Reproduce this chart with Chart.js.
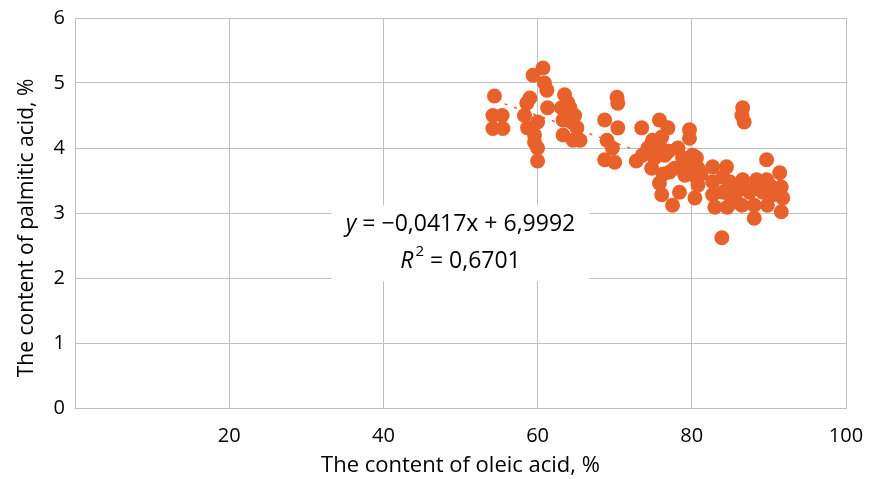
<!DOCTYPE html>
<html>
<head>
<meta charset="utf-8">
<script src="https://cdn.jsdelivr.net/npm/chart.js@4/dist/chart.umd.min.js"></script>
<style>
  html, body { margin: 0; padding: 0; background: #fff; }
  #wrap { width: 869px; height: 479px; }
</style>
</head>
<body>
<div id="wrap"><canvas id="chart"></canvas></div>
<script>
// oleic acid (x) vs palmitic acid (y)
var oleic = [
  54.4, 54.2, 55.4, 54.2, 55.5,
  59.4, 60.7, 60.9, 61.2, 59.0, 58.6, 58.3, 61.3, 58.7, 60.0, 59.6, 59.6, 60.0, 60.0,
  63.5, 63.9, 63.1, 64.2, 64.8, 63.3, 64.4, 63.3, 65.1, 64.6, 65.5,
  70.3, 70.4, 68.7, 70.4, 69.0, 69.7, 68.7, 70.0,
  73.5, 75.8, 76.9, 74.9, 76.1, 73.6, 74.3, 74.8, 75.8, 76.5, 77.1, 75.8, 76.1, 77.5,
  78.4, 78.2, 79.7, 79.7, 79.5, 80.6, 77.8, 79.1, 80.6, 80.4, 80.1, 80.8, 80.8,
  75.2, 77.0, 76.3, 78.8, 81.2, 72.8,
  86.6, 86.5, 86.8, 82.7, 84.5, 89.7, 91.4, 82.7, 84.0, 84.9, 86.6, 88.4, 89.7, 91.6,
  91.8, 82.7, 84.0, 85.8, 87.5, 89.2, 90.5, 83.0, 84.6, 86.5, 88.1, 89.8, 91.6, 88.1,
  85.8, 86.6, 84.9, 88.4, 90.1, 83.9
];
var palmitic = [
  4.80, 4.50, 4.50, 4.30, 4.30,
  5.12, 5.23, 5.00, 4.89, 4.77, 4.69, 4.50, 4.62, 4.31, 4.40, 4.20, 4.09, 4.00, 3.80,
  4.82, 4.70, 4.62, 4.62, 4.50, 4.43, 4.40, 4.20, 4.31, 4.12, 4.12,
  4.78, 4.69, 4.43, 4.31, 4.12, 4.00, 3.82, 3.78,
  4.31, 4.43, 4.31, 4.12, 4.17, 3.89, 4.00, 3.69, 4.05, 3.89, 3.63, 3.46, 3.28, 3.12,
  3.32, 4.00, 4.28, 4.15, 3.74, 3.54, 3.69, 3.58, 3.85, 3.23, 3.89, 3.69, 3.43,
  3.85, 3.95, 3.60, 3.85, 3.60, 3.80,
  4.62, 4.50, 4.40, 3.71, 3.71, 3.82, 3.62, 3.48, 3.55, 3.48, 3.51, 3.51, 3.51, 3.40,
  3.23, 3.28, 3.32, 3.32, 3.32, 3.32, 3.28, 3.09, 3.09, 3.12, 3.12, 3.12, 3.02, 2.92,
  3.17, 3.43, 3.28, 3.40, 3.43, 2.62
];
// linear trend line ends as seen on the chart
var trendX = [54.5, 91.8];
var trendY = [4.73, 3.17];
var xTicks = [20, 40, 60, 80, 100];
var equation = 'y = \u22120,0417x + 6,9992';
var rSquared = '0,6701';
var yTitle = 'The content of palmitic acid, %';

var orange = '#E8612A';
var gridGray = '#bfbfbf';
var fontFamily = "'Open Sans', 'Noto Sans', sans-serif";

var points = oleic.map(function (x, i) { return { x: x, y: palmitic[i] }; });
var trend = trendX.map(function (x, i) { return { x: x, y: trendY[i] }; });

var labelBox = {
  id: 'labelBox',
  afterDatasetsDraw: function (chart) {
    var ctx = chart.ctx;
    var xs = chart.scales.x, ys = chart.scales.y;
    var cx = xs.getPixelForValue(50);
    var top = ys.getPixelForValue(3.12);
    var bottom = ys.getPixelForValue(1.95);
    var fs = 23;
    ctx.save();
    ctx.fillStyle = '#fff';
    ctx.fillRect(cx - 129, top, 258, bottom - top);
    ctx.fillStyle = '#000';
    ctx.textBaseline = 'middle';
    ctx.textAlign = 'left';
    // first line, italic y
    var rest = equation.slice(1);
    ctx.font = 'italic ' + fs + 'px ' + fontFamily;
    var wy = ctx.measureText('y').width;
    ctx.font = fs + 'px ' + fontFamily;
    var wr = ctx.measureText(rest).width;
    var start = cx - (wy + wr) / 2;
    var y1 = ys.getPixelForValue(2.82);
    ctx.font = 'italic ' + fs + 'px ' + fontFamily;
    ctx.fillText('y', start, y1);
    ctx.font = fs + 'px ' + fontFamily;
    ctx.fillText(rest, start + wy, y1);
    // second line, R^2
    var y2 = ys.getPixelForValue(2.25);
    ctx.font = 'italic ' + fs + 'px ' + fontFamily;
    var wR = ctx.measureText('R').width;
    ctx.font = '15px ' + fontFamily;
    var w2 = ctx.measureText('2').width + 2;
    ctx.font = fs + 'px ' + fontFamily;
    var tail = ' = ' + rSquared;
    var wt = ctx.measureText(tail).width;
    start = cx - (wR + w2 + wt) / 2;
    ctx.font = 'italic ' + fs + 'px ' + fontFamily;
    ctx.fillText('R', start, y2);
    ctx.font = '15px ' + fontFamily;
    ctx.fillText('2', start + wR + 2, y2 - 10);
    ctx.font = fs + 'px ' + fontFamily;
    ctx.fillText(tail, start + wR + w2, y2);

    // y axis title, sits a bit below the plot centre in the original
    ctx.translate(27, 228);
    ctx.rotate(-Math.PI / 2);
    ctx.textAlign = 'center';
    ctx.font = '21px ' + fontFamily;
    ctx.fillText(yTitle, 0, 0);
    ctx.restore();
  }
};

new Chart(document.getElementById('chart'), {
  type: 'scatter',
  data: {
    datasets: [{
      label: 'samples',
      data: points,
      backgroundColor: orange,
      borderColor: orange,
      pointRadius: 7.5,
      pointHoverRadius: 7.5,
      borderWidth: 0
    }, {
      type: 'line',
      label: 'trend',
      data: trend,
      borderColor: orange,
      borderWidth: 1.5,
      borderDash: [3, 7],
      pointRadius: 0,
      fill: false
    }]
  },
  options: {
    responsive: true,
    maintainAspectRatio: false,
    animation: false,
    layout: { padding: { top: 18, right: 23, left: 0, bottom: 0 } },
    plugins: {
      legend: { display: false },
      tooltip: { enabled: false }
    },
    scales: {
      x: {
        type: 'linear',
        min: 0,
        max: 100,
        afterBuildTicks: function (scale) {
          scale.ticks = [0].concat(xTicks).map(function (v) { return { value: v }; });
        },
        ticks: {
          color: '#000',
          font: { family: fontFamily, size: 20 },
          padding: 16,
          maxRotation: 0,
          callback: function (v) { return v === 0 ? '' : v; }
        },
        grid: { color: gridGray, lineWidth: 1, drawTicks: false },
        border: { color: gridGray },
        title: {
          display: true,
          text: 'The content of oleic acid, %',
          color: '#000',
          font: { family: fontFamily, size: 22 },
          padding: { top: 0, bottom: 0 }
        },
        afterFit: function (scale) {
          scale.height = 71;
          scale.paddingLeft = 0;
          scale.paddingRight = 0;
        }
      },
      y: {
        min: 0,
        max: 6,
        ticks: {
          stepSize: 1,
          color: '#000',
          font: { family: fontFamily, size: 20 },
          padding: 10
        },
        grid: { color: gridGray, lineWidth: 1, drawTicks: false },
        border: { color: gridGray },
        title: { display: false },
        afterFit: function (scale) {
          scale.width = 75;
          scale.paddingTop = 0;
          scale.paddingBottom = 0;
        }
      }
    }
  },
  plugins: [labelBox]
});
</script>
</body>
</html>
